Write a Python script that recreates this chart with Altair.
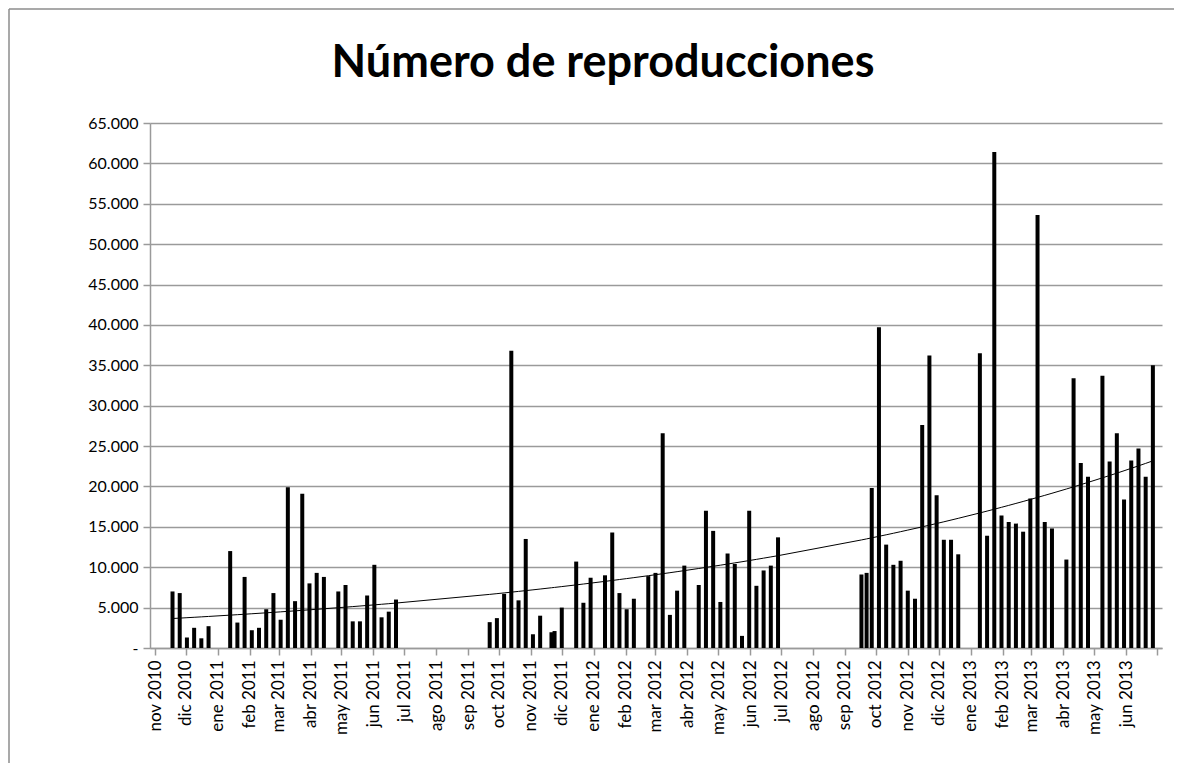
import altair as alt
import pandas as pd

title_text = "Número de reproducciones"
month_abbr = ["ene", "feb", "mar", "abr", "may", "jun", "jul", "ago", "sep", "oct", "nov", "dic"]
x_start = "2010-11-01"
x_end = "2013-07-01"
y_ticks = list(range(0, 65001, 5000))

dates_2010_2011 = [
    "2010-11-18", "2010-11-25", "2010-12-02", "2010-12-09", "2010-12-16", "2010-12-23",
    "2011-01-13", "2011-01-20", "2011-01-27", "2011-02-03", "2011-02-10", "2011-02-17",
    "2011-02-24", "2011-03-03", "2011-03-10", "2011-03-17", "2011-03-24", "2011-03-31",
    "2011-04-07", "2011-04-14", "2011-04-28", "2011-05-05", "2011-05-12", "2011-05-19",
    "2011-05-26", "2011-06-02", "2011-06-09", "2011-06-16", "2011-06-23",
]
values_2010_2011 = [
    7000, 6800, 1300, 2500, 1200, 2700,
    12000, 3150, 8800, 2200, 2500, 4800,
    6800, 3500, 19900, 5800, 19100, 8000,
    9300, 8800, 7000, 7800, 3300, 3300,
    6500, 10300, 3800, 4500, 6000,
]

dates_2011_2012 = [
    "2011-09-22", "2011-09-29", "2011-10-06", "2011-10-13", "2011-10-20", "2011-10-27",
    "2011-11-03", "2011-11-10", "2011-11-21", "2011-11-24", "2011-12-01", "2011-12-15",
    "2011-12-22", "2011-12-29", "2012-01-12", "2012-01-19", "2012-01-26", "2012-02-02",
    "2012-02-09", "2012-02-23", "2012-03-01", "2012-03-08", "2012-03-15", "2012-03-22",
    "2012-03-29", "2012-04-12", "2012-04-19", "2012-04-26", "2012-05-03", "2012-05-10",
    "2012-05-17", "2012-05-24", "2012-05-31", "2012-06-07", "2012-06-14", "2012-06-21",
    "2012-06-28",
]
values_2011_2012 = [
    3200, 3700, 6700, 36800, 5900, 13500,
    1700, 4000, 1950, 2100, 5000, 10700,
    5600, 8700, 9000, 14300, 6800, 4800,
    6100, 8900, 9300, 26600, 4100, 7100,
    10200, 7800, 17000, 14500, 5700, 11700,
    10400, 1500, 17000, 7700, 9600, 10200,
    13700,
]

dates_2012_2013 = [
    "2012-09-17", "2012-09-22", "2012-09-27", "2012-10-04", "2012-10-11", "2012-10-18",
    "2012-10-25", "2012-11-01", "2012-11-08", "2012-11-15", "2012-11-22", "2012-11-29",
    "2012-12-06", "2012-12-13", "2012-12-20",
    "2013-01-10", "2013-01-17", "2013-01-24", "2013-01-31", "2013-02-07", "2013-02-14",
    "2013-02-21", "2013-02-28", "2013-03-07", "2013-03-14", "2013-03-21",
    "2013-04-04", "2013-04-11", "2013-04-18", "2013-04-25",
    "2013-05-09", "2013-05-16", "2013-05-23", "2013-05-30", "2013-06-06", "2013-06-13",
    "2013-06-20", "2013-06-27",
]
values_2012_2013 = [
    9100, 9300, 19800, 39700, 12800, 10300,
    10800, 7100, 6100, 27600, 36200, 18900,
    13400, 13400, 11600,
    36500, 13900, 61400, 16400, 15600, 15400,
    14400, 18500, 53600, 15600, 14800,
    10950, 33400, 22900, 21200,
    33700, 23100, 26600, 18400, 23200, 24700,
    21200, 35000,
]

df = pd.DataFrame({
    "fecha": dates_2010_2011 + dates_2011_2012 + dates_2012_2013,
    "valor": values_2010_2011 + values_2011_2012 + values_2012_2013,
})

FONT = "Lato"
GRAY = "#9a9a9a"


def ms(ts):
    return int(pd.Timestamp(ts, tz="UTC").timestamp() * 1000)


month_ticks = [ms(d) for d in pd.date_range(x_start, x_end, freq="MS")]
months_js = "[" + ",".join(f"'{m}'" for m in month_abbr) + "]"
x_label_expr = (
    f"datum.value >= {ms(x_end)} ? '' : "
    f"{months_js}[utcmonth(datum.value)] + ' ' + utcyear(datum.value)"
)
y_label_expr = "datum.value == 0 ? '-\u00a0\u00a0\u00a0\u00a0' : replace(format(datum.value, ','), /,/g, '.')"

x_enc = alt.X(
    "fecha:T",
    scale=alt.Scale(type="utc", domain=[ms(x_start), ms(x_end)]),
    axis=alt.Axis(
        values=month_ticks, tickCount=100, labelExpr=x_label_expr, labelAngle=270,
        labelAlign="right", labelBaseline="middle", grid=False, tickSize=7, tickColor=GRAY,
        domainColor=GRAY, domainWidth=1.5, tickWidth=1.5, labelFont=FONT, labelFontSize=17,
        labelColor="#000000", labelPadding=5, labelOverlap=False, labelFlush=False,
        labelBound=False, title=None,
    ),
)
y_scale = alt.Scale(domain=[0, 65000], nice=False)
y_axis = alt.Axis(
    values=y_ticks, tickCount=100, labelExpr=y_label_expr, grid=True, gridColor=GRAY,
    gridWidth=1.5, tickSize=7, tickColor=GRAY, tickWidth=1.5, domainColor=GRAY,
    domainWidth=1.5, labelFont=FONT, labelFontSize=16, labelColor="#000000",
    labelPadding=5, labelOverlap=False, title=None,
)

base = alt.Chart(df)

bars = base.mark_bar(size=4, color="#000000").encode(
    x=x_enc,
    y=alt.Y("valor:Q", scale=y_scale, axis=y_axis),
)

trend = base.transform_calculate(
    t=f"(toDate(datum.fecha) - toDate('{x_start}')) / 86400000",
    ly="log(datum.valor)",
).transform_calculate(
    tly="datum.t * datum.ly",
    tt="datum.t * datum.t",
).transform_joinaggregate(
    mt="mean(t)", mly="mean(ly)", mtly="mean(tly)", mtt="mean(tt)",
).transform_calculate(
    b="(datum.mtly - datum.mt * datum.mly) / (datum.mtt - datum.mt * datum.mt)",
).transform_calculate(
    tendencia="exp(datum.mly + datum.b * (datum.t - datum.mt))",
).mark_line(color="#000000", strokeWidth=1).encode(
    x=alt.X("fecha:T"),
    y=alt.Y("tendencia:Q"),
)

frame_df = pd.DataFrame({"k": [0]})
frame_left = alt.Chart(frame_df).mark_rule(color="#8c8c8c", strokeWidth=1.5).encode(
    x=alt.value(-141), y=alt.value(-114), y2=alt.value(640)
)
frame_top = alt.Chart(frame_df).mark_rule(color="#8c8c8c", strokeWidth=1.5).encode(
    x=alt.value(-141), x2=alt.value(1030), y=alt.value(-114)
)

chart = alt.layer(frame_left, frame_top, bars, trend).properties(
    width=1012,
    height=525,
    title=alt.TitleParams(
        text=title_text, font=FONT, fontSize=45, fontWeight="bold", color="#000000",
        anchor="middle", dx=-53, offset=-114, baseline="alphabetic",
    ),
    autosize=alt.AutoSizeParams(type="none"),
    padding={"left": 142, "top": 115, "right": 12, "bottom": 118},
).configure_view(stroke="transparent")

chart.save("out.html", embed_options={"renderer": "svg", "actions": False})
